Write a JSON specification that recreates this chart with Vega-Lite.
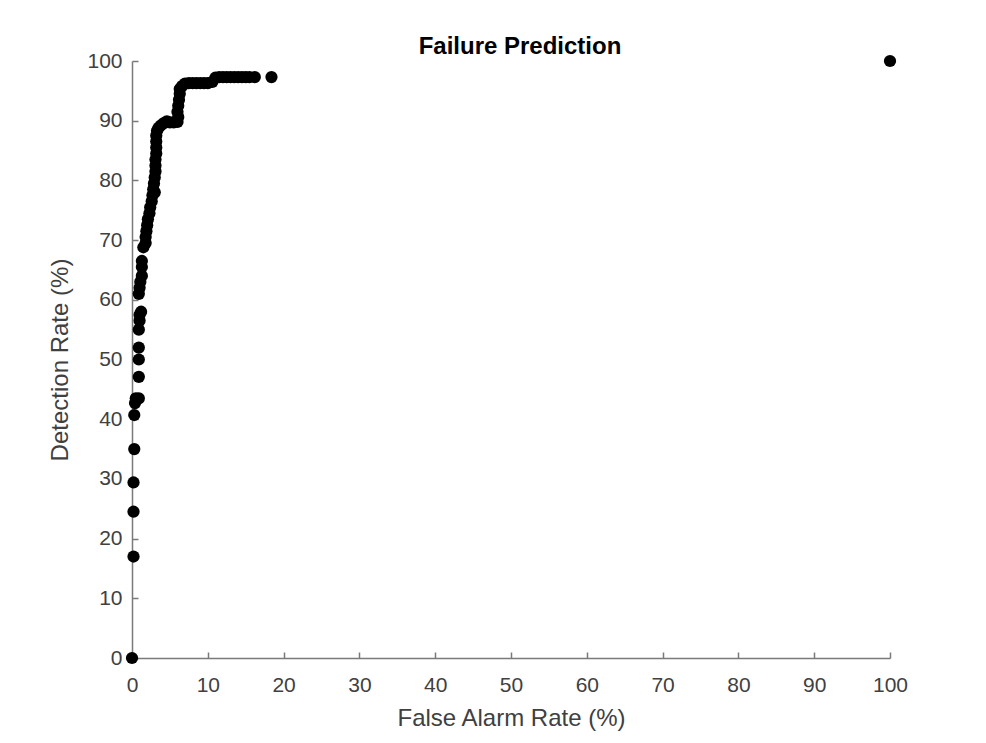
{
  "$schema": "https://vega.github.io/schema/vega-lite/v6.json",
  "autosize": "none",
  "width": 758,
  "height": 597,
  "padding": {"left": 132, "top": 61, "right": 96, "bottom": 85},
  "background": "white",
  "title": {
    "text": "Failure Prediction",
    "font": "Liberation Sans",
    "fontSize": 24,
    "fontWeight": "bold",
    "color": "#000000",
    "anchor": "middle",
    "offset": -9,
    "dx": 9
  },
  "config": {
    "view": {"stroke": null},
    "axis": {
      "grid": false,
      "domainColor": "#7a7a7a",
      "domainWidth": 1.5,
      "tickColor": "#7a7a7a",
      "tickWidth": 1.5,
      "tickSize": -6,
      "labelFlush": false,
      "labelFont": "Liberation Sans",
      "labelFontSize": 21,
      "labelColor": "#404040",
      "titleFont": "Liberation Sans",
      "titleFontSize": 24,
      "titleFontWeight": "normal",
      "titleColor": "#404040"
    }
  },
  "data": {
    "values": [
      {"far": 0, "dr": 0},
      {"far": 0.2, "dr": 17},
      {"far": 0.2, "dr": 24.5},
      {"far": 0.2, "dr": 29.4},
      {"far": 0.3, "dr": 35},
      {"far": 0.3, "dr": 40.7},
      {"far": 0.4, "dr": 42.7},
      {"far": 0.5, "dr": 43.5},
      {"far": 0.9, "dr": 43.5},
      {"far": 0.9, "dr": 47.1},
      {"far": 0.9, "dr": 50},
      {"far": 0.9, "dr": 52},
      {"far": 0.9, "dr": 55},
      {"far": 1.0, "dr": 56.5},
      {"far": 1.0, "dr": 57.5},
      {"far": 1.2, "dr": 58},
      {"far": 0.9, "dr": 61},
      {"far": 1.0, "dr": 62},
      {"far": 1.1, "dr": 63},
      {"far": 1.3, "dr": 64},
      {"far": 1.3, "dr": 65.5},
      {"far": 1.3, "dr": 66.5},
      {"far": 1.5, "dr": 68.8},
      {"far": 1.8, "dr": 69.5},
      {"far": 1.8, "dr": 70.5},
      {"far": 1.9, "dr": 71.5},
      {"far": 2.0, "dr": 72.5},
      {"far": 2.1, "dr": 73.5},
      {"far": 2.3, "dr": 74.5},
      {"far": 2.4, "dr": 75.5},
      {"far": 2.6, "dr": 76.5},
      {"far": 2.7, "dr": 77.5},
      {"far": 2.8, "dr": 78.5},
      {"far": 3.0, "dr": 78},
      {"far": 2.9, "dr": 79.5},
      {"far": 3.0, "dr": 80.5},
      {"far": 3.1, "dr": 81.5},
      {"far": 3.1, "dr": 82.5},
      {"far": 3.1, "dr": 83.5},
      {"far": 3.2, "dr": 84.5},
      {"far": 3.2, "dr": 85.5},
      {"far": 3.2, "dr": 86.5},
      {"far": 3.2, "dr": 87.5},
      {"far": 3.3, "dr": 88.3},
      {"far": 3.5, "dr": 88.8},
      {"far": 3.8, "dr": 89.2},
      {"far": 4.2, "dr": 89.6},
      {"far": 4.6, "dr": 89.9},
      {"far": 5.0, "dr": 89.7},
      {"far": 5.5, "dr": 89.7},
      {"far": 6.0, "dr": 89.8},
      {"far": 6.1, "dr": 90.6},
      {"far": 6.0, "dr": 91.5},
      {"far": 6.1, "dr": 92.5},
      {"far": 6.2, "dr": 93.5},
      {"far": 6.3, "dr": 94.5},
      {"far": 6.3, "dr": 95.3},
      {"far": 6.6, "dr": 95.8},
      {"far": 7.0, "dr": 96.2},
      {"far": 7.5, "dr": 96.3},
      {"far": 8.0, "dr": 96.3},
      {"far": 8.5, "dr": 96.3},
      {"far": 9.0, "dr": 96.3},
      {"far": 9.5, "dr": 96.3},
      {"far": 10.0, "dr": 96.3},
      {"far": 10.6, "dr": 96.5},
      {"far": 11.0, "dr": 97.2},
      {"far": 11.5, "dr": 97.3},
      {"far": 12.0, "dr": 97.3},
      {"far": 12.5, "dr": 97.3},
      {"far": 13.0, "dr": 97.3},
      {"far": 13.5, "dr": 97.3},
      {"far": 14.0, "dr": 97.3},
      {"far": 14.5, "dr": 97.3},
      {"far": 15.0, "dr": 97.3},
      {"far": 15.5, "dr": 97.3},
      {"far": 16.2, "dr": 97.3},
      {"far": 18.4, "dr": 97.3},
      {"far": 100, "dr": 100}
    ]
  },
  "mark": {"type": "point", "filled": true, "opacity": 1, "color": "#000000", "size": 150, "clip": false},
  "encoding": {
    "x": {
      "field": "far",
      "type": "quantitative",
      "scale": {"domain": [0, 100], "nice": false, "zero": true},
      "axis": {"values": [0, 10, 20, 30, 40, 50, 60, 70, 80, 90, 100], "title": "False Alarm Rate (%)", "labelPadding": 22, "titlePadding": 11}
    },
    "y": {
      "field": "dr",
      "type": "quantitative",
      "scale": {"domain": [0, 100], "nice": false},
      "axis": {"values": [0, 10, 20, 30, 40, 50, 60, 70, 80, 90, 100], "title": "Detection Rate (%)", "labelPadding": 16, "titlePadding": 14}
    }
  }
}
